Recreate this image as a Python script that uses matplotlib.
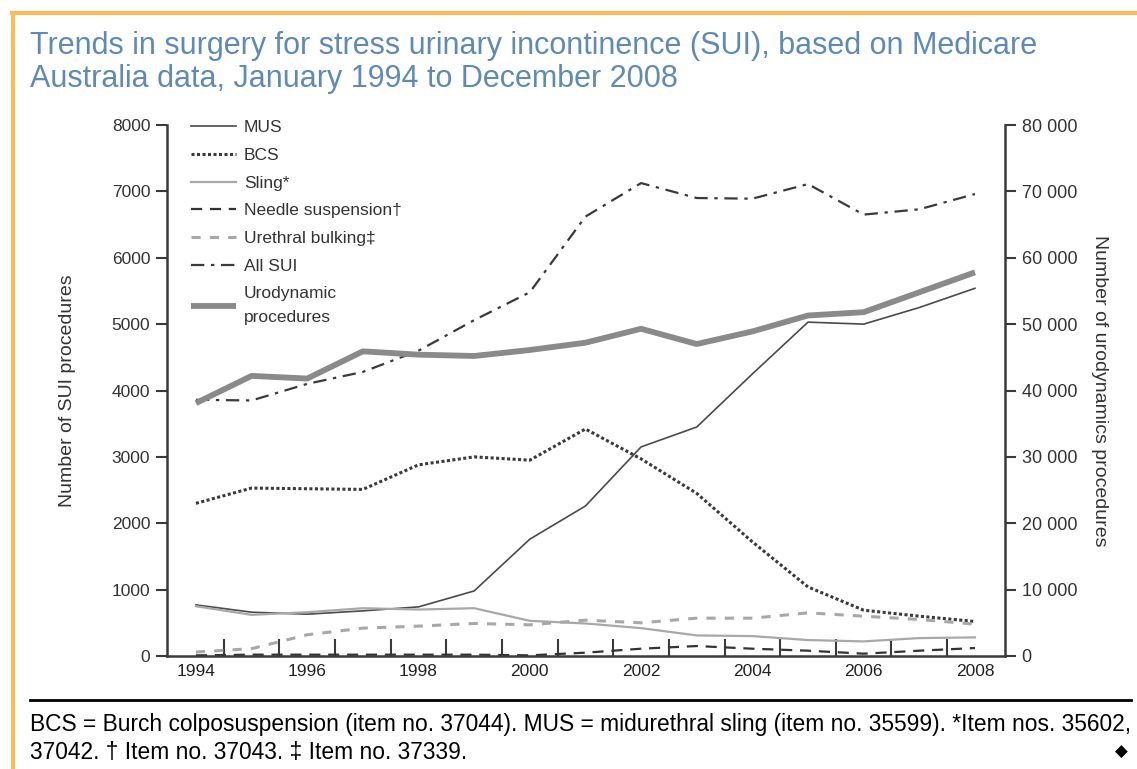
import matplotlib
matplotlib.use("Agg")
import matplotlib.pyplot as plt
from matplotlib.lines import Line2D

# --- data ---
years = list(range(1994, 2009))
mus = [770, 660, 630, 680, 740, 980, 1760, 2260, 3150, 3450, 4250, 5030, 5000, 5250, 5540]
bcs = [2300, 2530, 2520, 2510, 2880, 3000, 2950, 3420, 2970, 2450, 1720, 1040, 690, 600, 520]
sling = [750, 620, 660, 720, 700, 720, 530, 490, 420, 310, 300, 240, 220, 270, 280]
needle = [10, 20, 20, 20, 20, 20, 10, 50, 110, 150, 110, 80, 35, 80, 120]
bulking = [60, 110, 320, 420, 450, 490, 470, 540, 500, 570, 570, 650, 600, 550, 480]
all_sui = [3860, 3850, 4100, 4280, 4600, 5060, 5480, 6620, 7125, 6900, 6890, 7110, 6650, 6730, 6960]
urodyn = [38100, 42200, 41800, 45900, 45400, 45200, 46100, 47200, 49300, 47000, 48900, 51300, 51800, 54800, 57800]

left_ticks = [0, 1000, 2000, 3000, 4000, 5000, 6000, 7000, 8000]
right_ticks = [0, 10000, 20000, 30000, 40000, 50000, 60000, 70000, 80000]
right_labels = ["0", "10 000", "20 000", "30 000", "40 000", "50 000", "60 000", "70 000", "80 000"]
x_labels = [1994, 1996, 1998, 2000, 2002, 2004, 2006, 2008]

plain = ["Liberation Sans", "DejaVu Sans"]
axis_col = "#3a3a3a"

fig = plt.figure(figsize=(11.37, 7.69), dpi=100)
ax = fig.add_axes([167/1137, 1-656/769, (1005-167)/1137, (656-125)/769])
ax2 = ax.twinx()

# --- lines ---
l_mus, = ax.plot(years, mus, color="#4a4a4a", lw=1.2, label="MUS")
l_bcs, = ax.plot(years, bcs, color="#3a3a3a", lw=2.2, linestyle=(0, (1.0, 0.8)), label="BCS")
l_sling, = ax.plot(years, sling, color="#a8a8a8", lw=1.6, label="Sling*")
l_needle, = ax.plot(years, needle, color="#333333", lw=1.6, linestyle=(0, (5, 3.5)),
                    label="Needle suspension\u2020")
l_bulk, = ax.plot(years, bulking, color="#a8a8a8", lw=2.2, linestyle=(0, (3, 3)),
                  label="Urethral bulking\u2021")
l_all, = ax.plot(years, all_sui, color="#3a3a3a", lw=1.6, linestyle=(0, (6, 3, 1.5, 3)),
                 label="All SUI")
l_uro, = ax2.plot(years, urodyn, color="#8a8a8a", lw=4.2, solid_capstyle="butt",
                  label="Urodynamic\nprocedures")

# --- axes styling ---
ax.set_xlim(1993.48, 2008.54)
ax.set_ylim(0, 8000)
ax2.set_ylim(0, 80000)

for a in (ax, ax2):
    a.spines["top"].set_visible(False)
    for s in ("left", "right", "bottom"):
        a.spines[s].set_color(axis_col)
        a.spines[s].set_linewidth(1.8)
ax.spines["right"].set_visible(False)
ax2.spines["left"].set_visible(False)
ax2.spines["bottom"].set_visible(False)

ax.set_yticks(left_ticks)
ax.set_yticklabels([str(t) for t in left_ticks], family=plain, fontsize=12.5, color="#333333")
ax.tick_params(axis="y", direction="out", length=8, width=1.5, color=axis_col, pad=4)

ax2.set_yticks(right_ticks)
ax2.set_yticklabels(right_labels, family=plain, fontsize=13, color="#333333")
ax2.tick_params(axis="y", direction="out", length=8, width=1.5, color=axis_col, pad=4)

ax.set_xticks(x_labels)
ax.set_xticklabels([str(y) for y in x_labels], family=plain, fontsize=12.5, color="#222222")
ax.set_xticks([y + 0.5 for y in years[:-1]], minor=True)
ax.tick_params(axis="x", which="major", length=0, pad=6)
ax.tick_params(axis="x", which="minor", direction="in", length=12, width=1.5, color=axis_col)

ax.set_ylabel("Number of SUI procedures", family=plain, fontsize=14, color="#333333", labelpad=26)
ax2.set_ylabel("Number of urodynamics procedures", family=plain, fontsize=14, color="#333333",
               rotation=270, labelpad=22)

handles = [l_mus, l_bcs, l_sling, l_needle, l_bulk, l_all, l_uro]
leg = ax2.legend(handles=handles, loc="upper left", bbox_to_anchor=(0.012, 1.035), frameon=False,
                 prop={"family": plain, "size": 12.5}, handlelength=2.6, handletextpad=0.45,
                 labelspacing=0.72, borderaxespad=0.4)
for t in leg.get_texts():
    t.set_color("#333333")
    t.set_linespacing(1.75)

# --- title, border, footer ---
fig.text(30/1137, 1-46/769, "Trends in surgery for stress urinary incontinence (SUI), based on Medicare",
         family=plain, fontsize=22, color="#5f8ab8", va="center", ha="left")
fig.text(30/1137, 1-79/769, "Australia data, January 1994 to December 2008",
         family=plain, fontsize=22, color="#5f8ab8", va="center", ha="left")

orange = "#f9be5a"
fig.add_artist(Line2D([12/1137, 1.0], [1-13/769, 1-13/769], color=orange, lw=3))
fig.add_artist(Line2D([13/1137, 13/1137], [0, 1-13/769], color=orange, lw=3))
fig.add_artist(Line2D([30/1137, 1131/1137], [1-700/769, 1-700/769], color="black", lw=2))

fig.text(30/1137, 1-725/769,
         "BCS = Burch colposuspension (item no. 37044). MUS = midurethral sling (item no. 35599). *Item nos. 35602,",
         family=plain, fontsize=16.4, color="black", va="center", ha="left")
fig.text(30/1137, 1-752/769, "37042. \u2020 Item no. 37043. \u2021 Item no. 37339.",
         family=plain, fontsize=16.4, color="black", va="center", ha="left")
fig.text(1121/1137, 1-752/769, "\u25c6", family=["DejaVu Sans"], fontsize=12, color="black",
         va="center", ha="center")

fig.savefig("out.png", dpi=100)
